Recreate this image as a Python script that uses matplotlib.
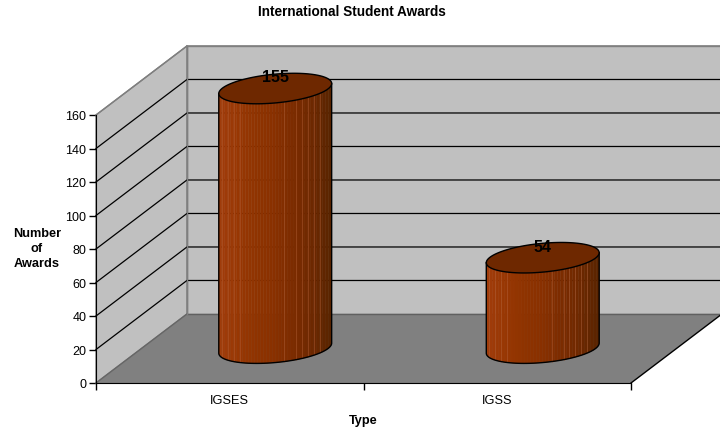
import numpy as np
import matplotlib
matplotlib.use('Agg')
import matplotlib.pyplot as plt
from matplotlib.colors import LinearSegmentedColormap

categories = ['IGSES', 'IGSS']
awards = [155, 54]
y_ticks = [0, 20, 40, 60, 80, 100, 120, 140, 160]

plt.rcParams['font.family'] = ['Liberation Sans', 'DejaVu Sans']

# depth of the fake 3D box, in data units
DX = 0.34
DY = 41.2
WALL = '#c0c0c0'
FLOOR = '#808080'
EDGE = '#7f7f7f'

body_cmap = LinearSegmentedColormap.from_list(
    'body', ['#a03c0a', '#983703', '#8f3300', '#883000', '#7c2c00', '#6e2800', '#5a2400'])


def ellipse(cx, cy, t):
    # tilted ring, right side sits higher than the left
    return cx + 0.211 * np.cos(t), cy + 3.0 * np.cos(t) + 8.6 * np.sin(t)


def draw_cylinder(ax, cx, value, base):
    top = base + value
    # vertical strips for the shading
    n = 38
    xs = np.linspace(-1, 1, n + 1)
    ts = np.pi + np.arccos(-xs)
    for i in range(n):
        t = np.linspace(ts[i], ts[i + 1], 6)
        x, y = ellipse(cx, base, t)
        x2, y2 = ellipse(cx, top, t[::-1])
        col = body_cmap(i / (n - 1))
        ax.fill(np.r_[x, x2], np.r_[y, y2], color=col, lw=0.3, zorder=5, clip_on=False)
        if i in (1, 3, 5, 7, 22, 26, 28, 30, 32, 34):
            # pale seams between the facets
            ax.plot([x[0], x[0]], [y[0], y2[-1]], color='#b5623a', lw=0.6, alpha=0.5, zorder=6, clip_on=False)
    t = np.linspace(np.pi, 2 * np.pi, 60)
    x, y = ellipse(cx, base, t)
    x2, y2 = ellipse(cx, top, t[::-1])
    ax.plot(np.r_[x2[-1], x, x2[0]], np.r_[y2[-1], y, y2[0]], color='black', lw=1, zorder=7, clip_on=False)
    t = np.linspace(0, 2 * np.pi, 120)
    x, y = ellipse(cx, top, t)
    ax.fill(x, y, facecolor='#6e2800', edgecolor='black', lw=1, zorder=8, clip_on=False)
    ax.text(cx, top + 6.9, str(value), ha='center', va='center', fontsize=11.5,
            fontweight='bold', zorder=9, clip_on=False)


fig = plt.figure(figsize=(7.2, 4.31), dpi=100)
ax = fig.add_axes([96 / 720, 47 / 431, 535 / 720, 268 / 431])
ax.set_xlim(0, 2)
ax.set_ylim(0, 160)
ax.patch.set_visible(False)
for s in ('top', 'right'):
    ax.spines[s].set_visible(False)
for s in ('left', 'bottom'):
    ax.spines[s].set_zorder(10)

# walls and floor
ymax = y_ticks[-1]
ax.fill([0, DX, DX, 0], [0, DY, ymax + DY, ymax], facecolor=WALL, edgecolor=EDGE, lw=1, clip_on=False, zorder=1)
ax.fill([DX, 2 + DX, 2 + DX, DX], [DY, DY, ymax + DY, ymax + DY], facecolor=WALL, edgecolor=EDGE, lw=1,
        clip_on=False, zorder=1)
ax.fill([0, 2, 2 + DX, DX], [0, 0, DY, DY], facecolor=FLOOR, edgecolor='none', clip_on=False, zorder=2)
ax.plot([DX, 2 + DX], [DY, DY], color='#606060', lw=1, clip_on=False, zorder=2)
ax.plot([0, DX], [0, DY], color='#666666', lw=1, clip_on=False, zorder=2)
ax.plot([2, 2 + DX], [0, DY], color='black', lw=1, clip_on=False, zorder=3)

# grid lines run along the side wall then along the back
for v in y_ticks[1:-1]:
    ax.plot([0, DX, 2 + DX], [v, v + DY, v + DY], color='black', lw=0.9, clip_on=False, zorder=3)
ax.plot([DX, 2 + DX], [ymax + DY, ymax + DY], color=EDGE, lw=1.2, clip_on=False, zorder=3)
ax.plot([0, DX], [ymax, ymax + DY], color=EDGE, lw=1, clip_on=False, zorder=3)
ax.plot([DX, DX], [DY, ymax + DY], color=EDGE, lw=1, clip_on=False, zorder=3)

for i, value in enumerate(awards):
    draw_cylinder(ax, i + 0.5 + DX / 2, value, DY * 0.505)

ax.set_yticks(y_ticks)
ax.set_xticks([0, 1, 2])
ax.set_xticklabels([])
ax.set_xticks([0.5, 1.5], labels=categories, minor=True)
ax.tick_params(axis='x', which='minor', length=0, labelsize=9.2, pad=8)
ax.tick_params(axis='both', which='major', length=5, width=1, labelsize=9, pad=2)

fig.text(352 / 720, 1 - 12.5 / 431, 'International Student Awards', ha='center', va='center',
         fontsize=9.8, fontweight='bold')
fig.text(37 / 720, 1 - 249 / 431, 'Number\nof\nAwards', ha='center', va='center', fontsize=9.2,
         fontweight='bold', linespacing=1.35)
fig.text(363 / 720, 1 - 421 / 431, 'Type', ha='center', va='center', fontsize=9.2, fontweight='bold')

plt.savefig('out.png', dpi=100)
